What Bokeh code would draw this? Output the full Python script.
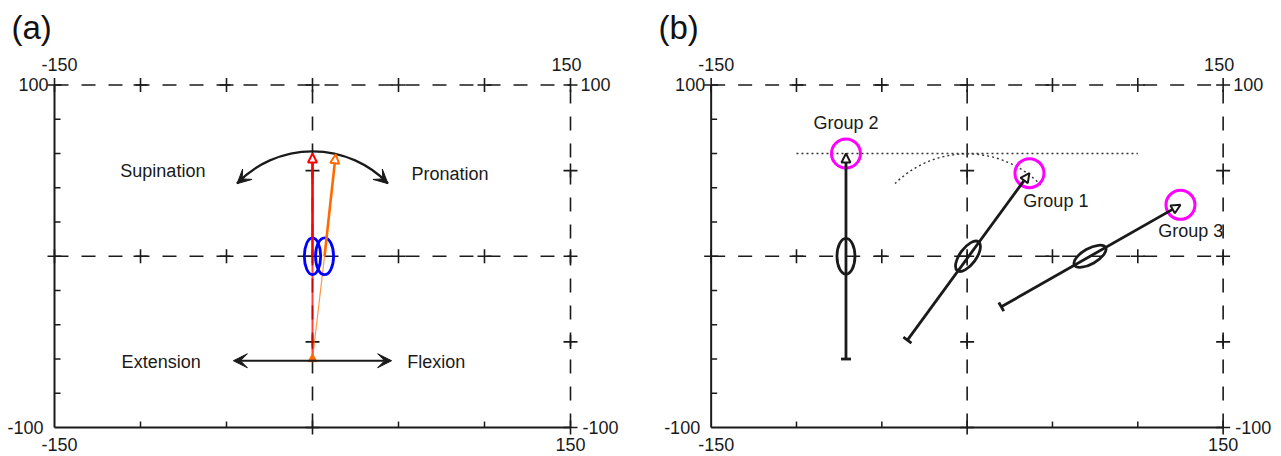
import numpy as np
from bokeh.plotting import figure
from bokeh.models import Range1d, Arrow, NormalHead, TeeHead, VeeHead, Label
from bokeh.layouts import row
from bokeh.core.properties import value
from bokeh.embed import file_html
from bokeh.resources import INLINE

FONT = "Liberation Sans"
INK = "#1a1a1a"

# ---- shared frame values ----
x_lim = [-150, 150]
y_lim = [-100, 100]
cross_x = [-150, -100, -50, 0, 50, 100, 150]      # crosses along y=100 and y=0
cross_y = [-100, -50, 50]                          # crosses along x=0 and x=150
left_ticks = [-80, -60, -40, -20, 20, 40, 60, 80]
bottom_ticks = [-100, -50, 50, 100]

# ---- panel (a) ----
a_start_x = [0, 0]
a_start_y = [-60, -60]
a_mid_x = [0, 7]
a_mid_y = [0, 0]
a_tip_x = [0, 13.5]
a_tip_y = [60, 59.5]
a_colors = ["#ff0000", "#ff6a00"]
a_low_width = [2.0, 1.2]
a_low_alpha = [0.75, 0.7]
a_ell_w = [9.5, 10.5]
a_ell_h = [21.5, 21.5]
arc_radius = 61
arc_deg = [44, 136]
flex_x = [-46, 46]
flex_y = -61
a_labels = ["Supination", "Pronation", "Extension", "Flexion"]
a_label_x = [-87, 80, -88, 72]
a_label_y = [50, 48, -62, -62]

# ---- panel (b) ----
groups = ["Group 1", "Group 2", "Group 3"]
b_start_x = [-35, -71, 20]
b_start_y = [-49, -60, -29.5]
b_mid_x = [0.5, -71, 72]
b_mid_y = [0, 0, 0]
b_tip_x = [36.5, -71, 125]
b_tip_y = [48.5, 60, 30]
b_ell_w = [21, 21, 21]
b_ell_h = [9.5, 10.5, 9]
b_label_x = [52, -71, 131]
b_label_y = [32, 78, 15]
ref_line_x = [-100, 100]
ref_line_y = 60
ref_arc_radius = 60
ref_arc_deg = [44, 136]

Y_RANGE = (-116.9, 149.3)
H = 456
FS = "18px"


def make_panel(xr, w, tag, tag_x):
    p = figure(width=w, height=H, x_range=Range1d(*xr), y_range=Range1d(*Y_RANGE),
               output_backend="svg", toolbar_location=None, min_border=0)
    p.axis.visible = False
    p.grid.visible = False
    p.outline_line_color = None
    p.background_fill_color = "white"

    # dashed grid lines
    dash = dict(line_color=INK, line_width=1.6, line_dash="14 13")
    p.segment(x0=[x_lim[0], x_lim[0]], y0=[y_lim[1], 0], x1=[x_lim[1], x_lim[1]], y1=[y_lim[1], 0], **dash)
    p.segment(x0=[0, x_lim[1]], y0=[y_lim[0], y_lim[0]], x1=[0, x_lim[1]], y1=[y_lim[1], y_lim[1]], **dash)

    # solid axes
    p.segment(x0=[x_lim[0], x_lim[0]], y0=[y_lim[0], y_lim[0]], x1=[x_lim[0], x_lim[1]], y1=[y_lim[1], y_lim[0]],
              line_color=INK, line_width=2)
    tick_len = 3.5
    p.segment(x0=[x_lim[0]] * len(left_ticks), y0=left_ticks,
              x1=[x_lim[0] + tick_len] * len(left_ticks), y1=left_ticks, line_color=INK, line_width=1.5)
    p.segment(x0=bottom_ticks, y0=[y_lim[0]] * len(bottom_ticks),
              x1=bottom_ticks, y1=[y_lim[0] + tick_len] * len(bottom_ticks), line_color=INK, line_width=1.5)

    # crosses
    cx = cross_x * 2 + [0] * len(cross_y) + [x_lim[1]] * len(cross_y)
    cy = [y_lim[1]] * len(cross_x) + [0] * len(cross_x) + cross_y * 2
    p.scatter(cx, cy, marker="cross", size=14, line_color=INK, line_width=1.6)

    # corner labels
    tf = dict(text_font=value(FONT), text_font_size=value(FS), text_color=INK)
    p.text(x=[x_lim[0], x_lim[1]], y=[y_lim[1], y_lim[1]], text=[str(v) for v in x_lim],
           text_align="center", text_baseline="middle", x_offset=[5, -4], y_offset=-20, **tf)
    p.text(x=[x_lim[0], x_lim[1]], y=[y_lim[0], y_lim[0]], text=[str(v) for v in x_lim],
           text_align="center", text_baseline="middle", x_offset=[5, 0], y_offset=17, **tf)
    p.text(x=[x_lim[0], x_lim[0]], y=[y_lim[1], y_lim[0]], text=[str(y_lim[1]), str(y_lim[0])],
           text_align="right", text_baseline="middle", x_offset=[-6, -11], **tf)
    p.text(x=[x_lim[1], x_lim[1]], y=[y_lim[1], y_lim[0]], text=[str(y_lim[1]), str(y_lim[0])],
           text_align="left", text_baseline="middle", x_offset=[10, 12], **tf)

    p.add_layout(Label(x=tag_x, y=H - 27, x_units="screen", y_units="screen", text=tag,
                       text_font=FONT, text_font_size="33px", text_baseline="middle",
                       text_color="#111111"))
    return p


# ================= panel (a) =================
pa = make_panel((-181.4, 190.7), 640, "(a)", 11)

for i in range(len(a_colors)):
    pa.segment(x0=a_start_x[i], y0=a_start_y[i], x1=a_mid_x[i], y1=a_mid_y[i],
               line_color=a_colors[i], line_width=a_low_width[i], line_alpha=a_low_alpha[i])
    pa.add_layout(Arrow(x_start=a_mid_x[i], y_start=a_mid_y[i], x_end=a_tip_x[i], y_end=a_tip_y[i],
                        line_color=a_colors[i], line_width=2.6,
                        end=NormalHead(size=9, fill_color="white", line_color=a_colors[i], line_width=2)))
pa.scatter(a_start_x[:1], a_start_y[:1], marker="triangle", size=9, fill_color="#ff6a00",
           line_color="#ff6a00")
pa.ellipse(x=a_mid_x, y=a_mid_y, width=a_ell_w, height=a_ell_h, fill_color=None,
           line_color="#0000ff", line_width=2.8)

# supination/pronation arc
a0, a1 = np.deg2rad(arc_deg[0]), np.deg2rad(arc_deg[1])
pa.arc(x=0, y=0, radius=arc_radius, start_angle=a0, end_angle=a1, line_color=INK, line_width=2.2)
d = np.deg2rad(7)
for (s, e) in [(a1 - d, a1), (a0 + d, a0)]:
    pa.add_layout(Arrow(x_start=arc_radius * np.cos(s), y_start=arc_radius * np.sin(s),
                        x_end=arc_radius * np.cos(e), y_end=arc_radius * np.sin(e),
                        line_color=None,
                        end=VeeHead(size=14, fill_color=INK, line_color=INK, line_width=1)))

# extension/flexion arrow
pa.add_layout(Arrow(x_start=flex_x[0], y_start=flex_y, x_end=flex_x[1], y_end=flex_y,
                    line_color=INK, line_width=2.2,
                    start=VeeHead(size=14, fill_color=INK, line_color=INK, line_width=1),
                    end=VeeHead(size=14, fill_color=INK, line_color=INK, line_width=1)))

pa.text(x=a_label_x, y=a_label_y, text=a_labels, text_align="center", text_baseline="middle",
        text_font=value(FONT), text_font_size=value(FS), text_color=INK)

# ================= panel (b) =================
pb = make_panel((-191.4, 184.2), 641, "(b)", 18)

pb.segment(x0=ref_line_x[0], y0=ref_line_y, x1=ref_line_x[1], y1=ref_line_y,
           line_color="#333333", line_width=1.4, line_dash="2 3")
pb.arc(x=0, y=0, radius=ref_arc_radius, start_angle=np.deg2rad(ref_arc_deg[0]),
       end_angle=np.deg2rad(ref_arc_deg[1]), line_color="#333333", line_width=1.4, line_dash="2 3")

for i in range(len(groups)):
    pb.add_layout(Arrow(x_start=b_start_x[i], y_start=b_start_y[i], x_end=b_tip_x[i], y_end=b_tip_y[i],
                        line_color=INK, line_width=2.8,
                        start=TeeHead(size=10, line_color=INK, line_width=2.8),
                        end=NormalHead(size=9, fill_color="white", line_color=INK, line_width=2)))

angles = np.arctan2(np.array(b_tip_y) - np.array(b_start_y), np.array(b_tip_x) - np.array(b_start_x))
pb.ellipse(x=b_mid_x, y=b_mid_y, width=b_ell_w, height=b_ell_h, angle=angles,
           fill_color=None, line_color=INK, line_width=2.8)
pb.scatter(b_tip_x, b_tip_y, marker="circle", size=29, fill_color=None,
           line_color="#ff00ff", line_width=3)
pb.text(x=b_label_x, y=b_label_y, text=groups, text_align="center", text_baseline="middle",
        text_font=value(FONT), text_font_size=value(FS), text_color=INK)

layout = row(pa, pb)
open("out.html", "w").write(file_html(layout, INLINE))
